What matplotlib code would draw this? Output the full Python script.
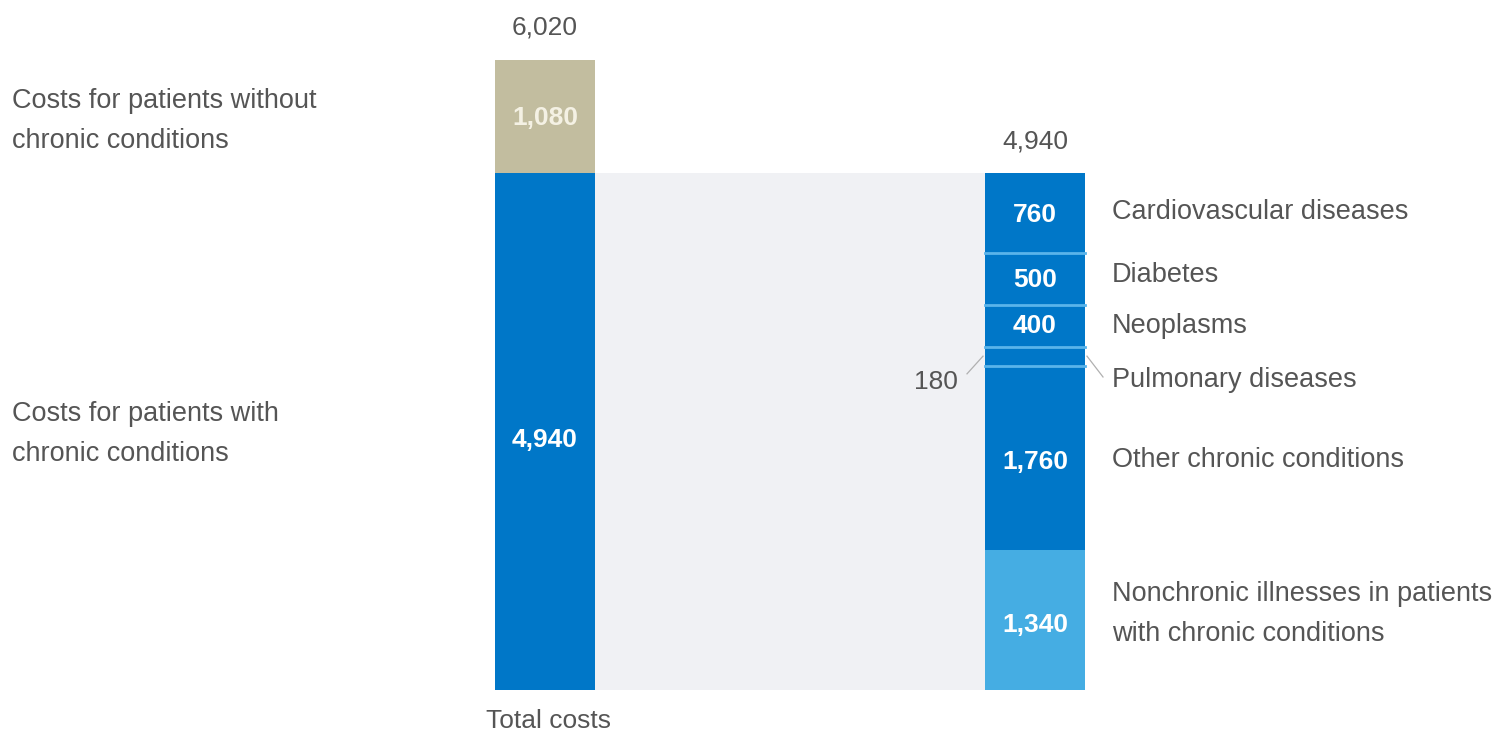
import matplotlib
matplotlib.use("Agg")
import matplotlib.pyplot as plt

plt.rcParams['font.family'] = ['Liberation Sans', 'DejaVu Sans']

# Datos
total_sin_cronicas = 1080
total_con_cronicas = 4940
total = 6020

segmentos = ['Nonchronic illnesses in patients\nwith chronic conditions',
             'Other chronic conditions', 'Pulmonary diseases', 'Neoplasms',
             'Diabetes', 'Cardiovascular diseases']
valores = [1340, 1760, 180, 400, 500, 760]

etiquetas_izq = ['Costs for patients with\nchronic conditions',
                 'Costs for patients without\nchronic conditions']

AZUL = '#0077c8'
AZUL_CLARO = '#45ade3'
ARENA = '#c2bd9f'
GRIS_TXT = '#555555'
GRIS_BANDA = '#f0f1f4'

W, H = 1507, 732
px = 517 / 4940          # pixeles por unidad
y_base = 690             # pixel de la base de las barras

fig = plt.figure(figsize=(W / 100, H / 100), dpi=100)
ax = fig.add_axes([0, 0, 1, 1])
ax.set_xlim(0, W)
ax.set_ylim(-(H - y_base) / px, y_base / px)
ax.axis('off')

x_izq, x_der, ancho = 545, 1035, 100
FS_LAB = 19.5
FS_NUM = 19

# Banda gris entre barras
ax.fill_between([x_izq + ancho / 2, x_der - ancho / 2], 0, total_con_cronicas,
                color=GRIS_BANDA, lw=0, zorder=0)

# Barra izquierda
ax.bar(x_izq, total_con_cronicas, ancho, color=AZUL, zorder=2)
ax.bar(x_izq, total_sin_cronicas, ancho, bottom=total_con_cronicas, color=ARENA, zorder=2)
ax.text(x_izq, total_con_cronicas / 2 - 80, f'{total_con_cronicas:,}', ha='center', va='center',
        color='white', fontsize=FS_NUM, fontweight='bold')
ax.text(x_izq, total_con_cronicas + total_sin_cronicas / 2 - 10, f'{total_sin_cronicas:,}',
        ha='center', va='center', color='#f4f1e4', fontsize=FS_NUM, fontweight='bold')
ax.text(x_izq, total + 310, f'{total:,}', ha='center', va='center', color=GRIS_TXT, fontsize=FS_NUM)
ax.text(x_izq + 3, -300, 'Total costs', ha='center', va='center', color=GRIS_TXT, fontsize=FS_NUM)

# Etiquetas a la izquierda
ax.text(12, total_con_cronicas / 2 - 25, etiquetas_izq[0], ha='left', va='center',
        color=GRIS_TXT, fontsize=FS_LAB, linespacing=1.7)
ax.text(12, total_con_cronicas + total_sin_cronicas / 2 - 43, etiquetas_izq[1], ha='left',
        va='center', color=GRIS_TXT, fontsize=FS_LAB, linespacing=1.7)

# Desplazamientos verticales de etiquetas (en unidades)
desp_lab = [60, -22, -229, 0, 35, 10]
desp_num = [-45, -40, 0, 0, -13, -22]

# Barra derecha
base = 0
for i, (nombre, v) in enumerate(zip(segmentos, valores)):
    color = AZUL_CLARO if i == 0 else AZUL
    ax.bar(x_der, v, ancho, bottom=base, color=color, zorder=2)
    if i >= 2:
        ax.plot([x_der - ancho / 2, x_der + ancho / 2], [base, base], color='#5ab4ea',
                lw=2, zorder=3)
    centro = base + v / 2
    y_lab = centro + desp_lab[i]
    if nombre == 'Pulmonary diseases':
        # lineas guia y valor fuera de la barra
        ax.plot([x_der + ancho / 2 + 2, 1103], [centro, y_lab + 30], color='#b0b0b0', lw=0.9)
        ax.plot([x_der - ancho / 2 - 2, 967], [centro, y_lab + 60], color='#b0b0b0', lw=0.9)
        ax.text(958, y_lab - 20, f'{v:,}', ha='right', va='center', color=GRIS_TXT,
                fontsize=FS_NUM)
    else:
        ax.text(x_der, centro + desp_num[i], f'{v:,}', ha='center', va='center',
                color='white', fontsize=FS_NUM, fontweight='bold', zorder=4)
    ax.text(1112, y_lab, nombre, ha='left', va='center', color=GRIS_TXT, fontsize=FS_LAB,
            linespacing=1.7)
    base += v
ax.text(x_der, total_con_cronicas + 300, f'{total_con_cronicas:,}', ha='center', va='center',
        color=GRIS_TXT, fontsize=FS_NUM)

plt.savefig('out.png', dpi=100)
